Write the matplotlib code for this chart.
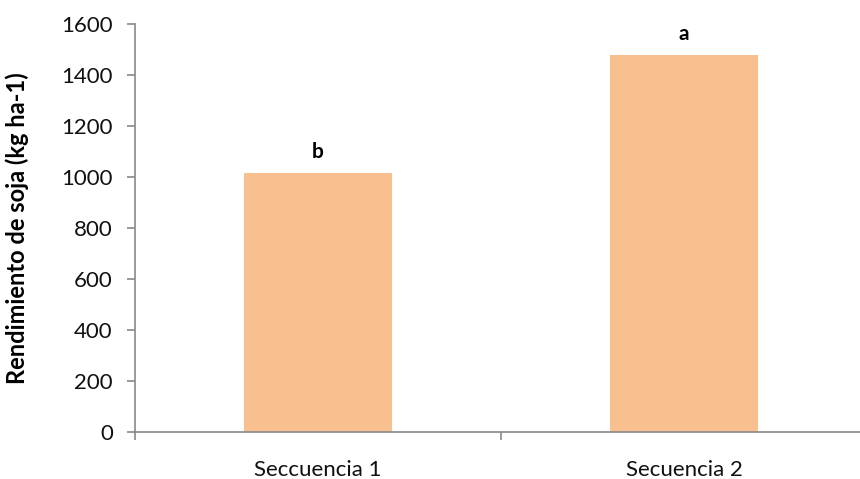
import matplotlib
matplotlib.use("Agg")
import matplotlib.pyplot as plt

categories = ["Seccuencia 1", "Secuencia 2"]
values = [1015, 1478]
letters = ["b", "a"]
yticks = [0, 200, 400, 600, 800, 1000, 1200, 1400, 1600]

plt.rcParams['font.family'] = ['Lato', 'DejaVu Sans']

fig = plt.figure(figsize=(8.6, 4.79), dpi=100)
ax = fig.add_axes([135/860, 1-432/479, (867-135)/860, (432-24)/479])

x = list(range(len(categories)))
ax.bar(x, values, width=0.405, color="#F9C08F", zorder=2)
for xi, v, l in zip(x, values, letters):
    ax.annotate(l, (xi, v), xytext=(0, 8), textcoords="offset points",
                ha="center", va="bottom", fontsize=15, fontweight="bold")

ax.set_xlim(-0.5, len(categories) - 0.5)
ax.set_ylim(0, 1600)
ax.set_yticks(yticks)
ax.set_yticklabels([str(t) for t in yticks], fontsize=16, color="#111111")
ax.set_xticks(x)
ax.set_xticklabels(categories, fontsize=16, color="#111111")
ax.tick_params(axis="x", which="major", length=0, pad=20)
ax.set_xticks([i - 0.5 for i in range(len(categories) + 1)], minor=True)
ax.tick_params(axis="x", which="minor", length=6, color="#898989", width=1.2)
ax.tick_params(axis="y", length=6, color="#898989", width=1.2, pad=10)

for s in ["top", "right"]:
    ax.spines[s].set_visible(False)
for s in ["left", "bottom"]:
    ax.spines[s].set_color("#898989")
    ax.spines[s].set_linewidth(1.2)

ax.set_ylabel("Rendimiento de soja (kg ha-1)", fontsize=17, fontweight="bold")
ax.yaxis.set_label_coords(-(135 - 29) / (867 - 135), 0.5)

fig.savefig("out.png", dpi=100)
